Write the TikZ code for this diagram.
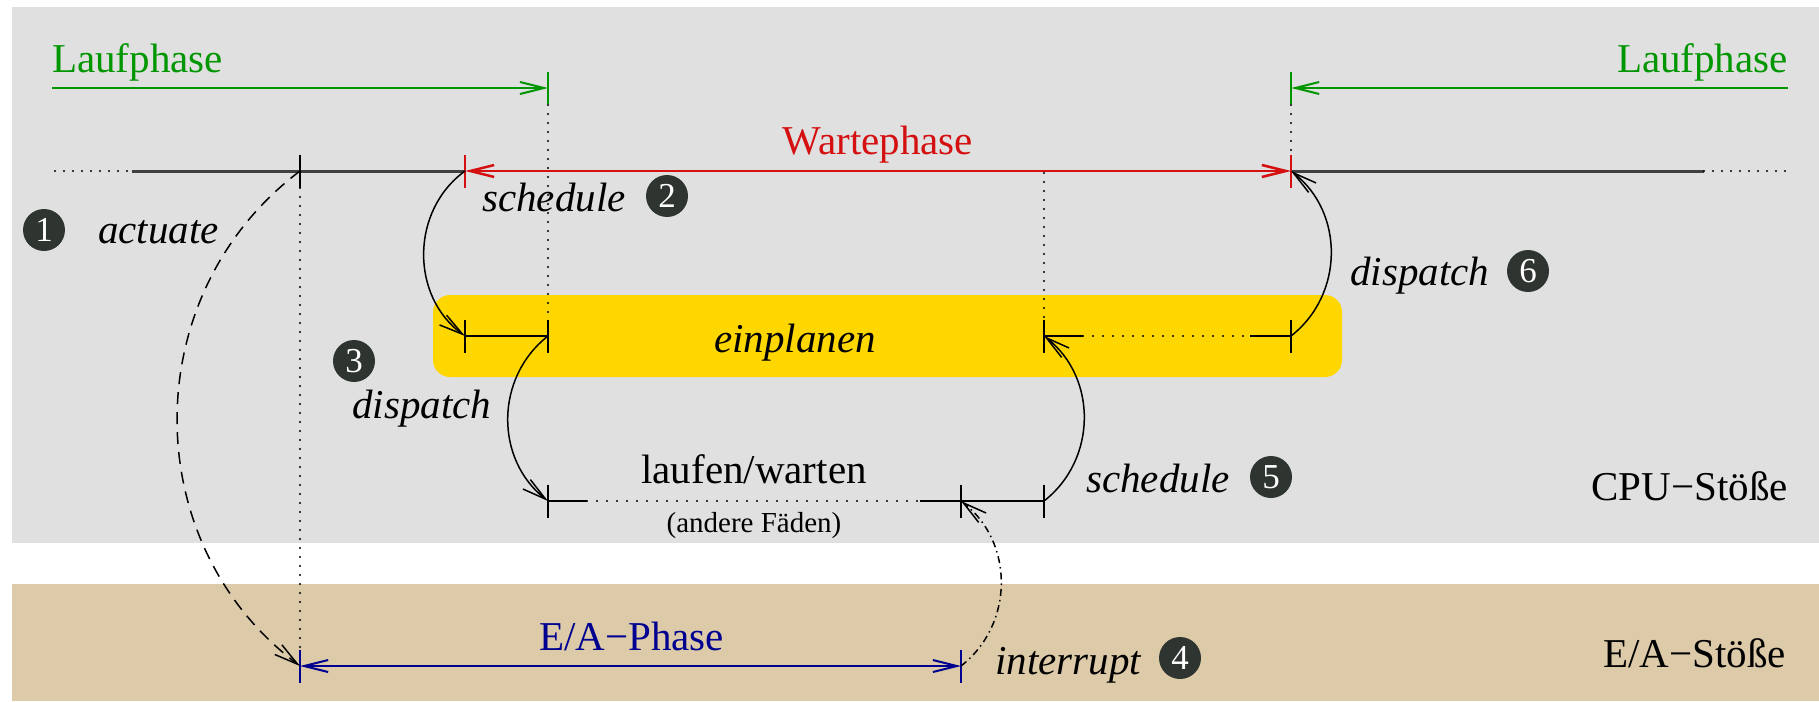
\documentclass[tikz,border=0pt]{standalone}
\usepackage{fontspec}
\setmainfont{Liberation Serif}
\usetikzlibrary{arrows.meta}
\definecolor{bggrey}{HTML}{E0E0E0}
\definecolor{bgtan}{HTML}{DCCAA8}
\definecolor{boxgold}{HTML}{FFD700}
\definecolor{lgreen}{HTML}{009600}
\definecolor{lred}{HTML}{D41010}
\definecolor{lblue}{HTML}{000090}
\definecolor{tlgrey}{HTML}{404040}
\definecolor{numfill}{HTML}{2E3430}
\tikzset{
  lbl/.style={font=\fontsize{41}{49}\selectfont, inner sep=0pt},
  ilbl/.style={font=\fontsize{41}{49}\selectfont\itshape, inner sep=0pt},
  slbl/.style={font=\fontsize{29}{35}\selectfont, inner sep=0pt},
  num/.style={circle, fill=numfill, text=white, minimum size=42pt, inner sep=0pt, font=\fontsize{35}{35}\selectfont},
  barb/.tip={Straight Barb[length=24pt,width=12pt]},
  tline/.style={line width=3pt, tlgrey},
  seg/.style={line width=1.8pt, black},
  tickmark/.style={line width=1.8pt},
  dotline/.style={line width=2.4pt, dash pattern=on 0pt off 9pt, line cap=round},
  sdot/.style={line width=2.4pt, dash pattern=on 0pt off 10pt, line cap=round},
  arcline/.style={line width=1.5pt, -barb},
}
\begin{document}
\begin{tikzpicture}[x=1pt,y=1pt]
\useasboundingbox (0,0) rectangle (1819,-701);
% backgrounds
\fill[bggrey] (12,-7) rectangle (1819,-543);
\fill[bgtan] (12,-584) rectangle (1819,-701);
\node[fill=boxgold, rounded corners=17pt, minimum width=909pt, minimum height=82pt, inner sep=0pt] (box) at (887.5,-336) {};

% coordinates
\coordinate (T0) at (55,-171);
\coordinate (T1) at (132,-171);
\coordinate (A) at (300,-171);
\coordinate (B) at (465,-171);
\coordinate (Wm) at (1044,-173);
\coordinate (C) at (1291,-171);
\coordinate (D) at (1704,-171);
\coordinate (E) at (1788,-171);
\coordinate (G1s) at (52,-88);
\coordinate (G1e) at (548,-88);
\coordinate (G2s) at (1788,-88);
\coordinate (G2e) at (1291,-88);
\coordinate (E1) at (465,-336);
\coordinate (E2) at (548,-336);
\coordinate (E3) at (1044,-336);
\coordinate (E3b) at (1083,-336);
\coordinate (E3c) at (1250,-336);
\coordinate (E4) at (1291,-336);
\coordinate (L1) at (548,-501);
\coordinate (L1b) at (587,-501);
\coordinate (L1c) at (920,-501);
\coordinate (L2) at (961,-501);
\coordinate (L3) at (1044,-501);
\coordinate (P1) at (300,-666);
\coordinate (P2) at (961,-666);

% dotted verticals
\draw[dotline] ([yshift=-17pt]A) -- ([yshift=17pt]P1);
\draw[dotline] ([yshift=-17pt]G1e) -- ([yshift=17pt]E2);
\draw[dotline] ([yshift=-17pt]G2e) -- ([yshift=17pt]C);
\draw[dotline] (Wm) -- ([yshift=17pt]E3);

% time line
\draw[dotline] (T0) -- (T1);
\draw[tline] (T1) -- (B);
\draw[tline] (C) -- (D);
\draw[dotline] (D) -- (E);
\draw[lred, line width=2.5pt, barb-barb] (B) -- (C);
\draw[tickmark] ([yshift=16.5pt]A) -- ([yshift=-16.5pt]A);
\draw[tickmark, lred] ([yshift=16.5pt]B) -- ([yshift=-16.5pt]B);
\draw[tickmark, lred] ([yshift=16.5pt]C) -- ([yshift=-16.5pt]C);

% green phases
\draw[lgreen, line width=2pt, -barb] (G1s) -- (G1e);
\draw[lgreen, line width=2pt, -barb] (G2s) -- (G2e);
\draw[tickmark, lgreen] ([yshift=16pt]G1e) -- ([yshift=-16pt]G1e);
\draw[tickmark, lgreen] ([yshift=16pt]G2e) -- ([yshift=-16pt]G2e);

% einplanen segments
\draw[seg] (E1) -- (E2);
\draw[seg] (E3) -- (E3b);
\draw[sdot] (E3b) -- (E3c);
\draw[seg] (E3c) -- (E4);
\foreach \p in {E1,E2,E3,E4} \draw[tickmark] ([yshift=16.5pt]\p) -- ([yshift=-16.5pt]\p);

% laufen/warten segments
\draw[seg] (L1) -- (L1b);
\draw[sdot] (L1b) -- (L1c);
\draw[seg] (L1c) -- (L2);
\draw[seg] (L2) -- (L3);
\foreach \p in {L1,L2,L3} \draw[tickmark] ([yshift=16.5pt]\p) -- ([yshift=-16.5pt]\p);

% E/A phase
\draw[lblue, line width=2pt, barb-barb] (P1) -- (P2);
\draw[tickmark, lblue] ([yshift=16.5pt]P1) -- ([yshift=-16.5pt]P1);
\draw[tickmark, lblue] ([yshift=16.5pt]P2) -- ([yshift=-16.5pt]P2);

% arcs
\draw[arcline] (B) to[out=216, in=144, looseness=1.05] (E1);
\draw[arcline] (E2) to[out=218, in=142, looseness=1.05] (L1);
\draw[arcline] (L3) to[out=38, in=322, looseness=1.05] (E3);
\draw[arcline] (E4) to[out=38, in=322, looseness=1.05] (C);
\draw[arcline, dash pattern=on 12pt off 8pt] (A) to[out=217, in=143, looseness=1.06] (P1);
\draw[arcline, dash pattern=on 7pt off 4pt on 1.5pt off 4pt] (P2) to[out=38, in=322, looseness=1.05] (L2);

% labels
\node[lbl, text=lgreen, anchor=base west] (lauf1) at (52,-72) {Laufphase};
\node[lbl, text=lgreen, anchor=base east] (lauf2) at (1788,-72) {Laufphase};
\node[lbl, text=lred, anchor=base] (warte) at (878,-154) {Wartephase};
\node[ilbl, anchor=base] (einpl) at (795,-352) {einplanen};
\node[lbl, anchor=base] (laufen) at (754,-483) {laufen/warten};
\node[slbl, anchor=base] (andere) at (754,-532) {(andere Fäden)};
\node[lbl, text=lblue, anchor=base west] (eaph) at (539,-650) {E/A−Phase};
\node[lbl, anchor=base east] (cpu) at (1788,-500) {CPU−Stöße};
\node[lbl, anchor=base east] (eas) at (1786,-667) {E/A−Stöße};

\node[ilbl, anchor=base west] (act) at (98,-243) {actuate};
\node[num] (n1) at (44,-230) {1};
\node[ilbl, anchor=base west] (sch2) at (482,-211) {schedule};
\node[num] (n2) at (667,-196) {2};
\node[num] (n3) at (354,-361) {3};
\node[ilbl, anchor=base west] (dis3) at (352,-418) {dispatch};
\node[ilbl, anchor=base west] (intr) at (995,-674) {interrupt};
\node[num] (n4) at (1180,-658) {4};
\node[ilbl, anchor=base west] (sch5) at (1086,-492) {schedule};
\node[num] (n5) at (1271,-477) {5};
\node[ilbl, anchor=base west] (dis6) at (1350,-285) {dispatch};
\node[num] (n6) at (1528,-271) {6};
\end{tikzpicture}
\end{document}
